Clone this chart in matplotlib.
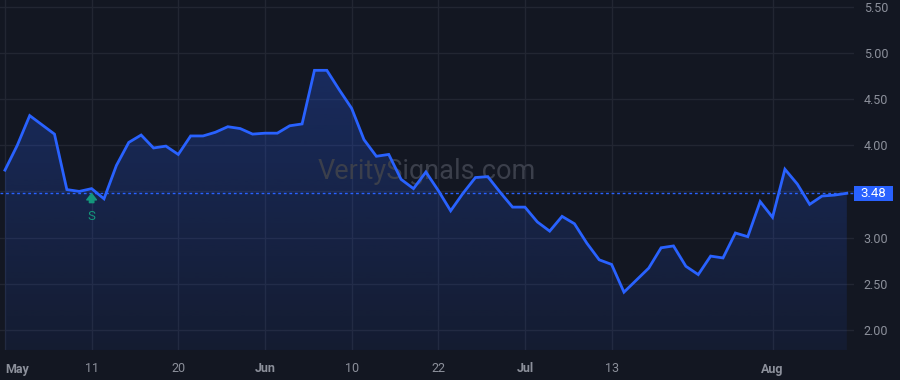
"""Dark price chart with area fill, signal marker and last-price label."""
import matplotlib
matplotlib.use("Agg")
import matplotlib.pyplot as plt
import matplotlib.transforms as mtransforms
from matplotlib.colors import LinearSegmentedColormap
from matplotlib.patches import Rectangle
import numpy as np

prices = [
    3.73, 4.00, 4.32, 4.22, 4.12, 3.52, 3.50, 3.53, 3.42, 3.78,
    4.03, 4.11, 3.97, 3.99, 3.90, 4.10, 4.10, 4.14, 4.20, 4.18,
    4.12, 4.13, 4.13, 4.21, 4.23, 4.81, 4.81, 4.60, 4.40, 4.06,
    3.88, 3.90, 3.63, 3.53, 3.71, 3.51, 3.29, 3.48, 3.65, 3.66,
    3.49, 3.33, 3.33, 3.17, 3.07, 3.23, 3.15, 2.94, 2.76, 2.71,
    2.41, 2.54, 2.67, 2.89, 2.91, 2.69, 2.60, 2.80, 2.78, 3.05,
    3.01, 3.39, 3.22, 3.74, 3.58, 3.36, 3.45, 3.46, 3.48,
]
tick_pos = [0, 7, 14, 21, 28, 35, 42, 49, 62]
tick_labels = ["May", "11", "20", "Jun", "10", "22", "Jul", "13", "Aug"]
month_labels = {"May", "Jun", "Jul", "Aug"}
price_ticks = [2.0, 2.5, 3.0, 3.5, 4.0, 4.5, 5.0, 5.5]
signal_idx = 7
last_price = prices[-1]

BG = "#131722"
GRID = "#222632"
TEXT = "#8c909b"
BLUE = "#2962ff"
GREEN = "#14977c"

x = np.arange(len(prices))
y = np.array(prices)

fig = plt.figure(figsize=(9, 3.8), dpi=100, facecolor=BG)
ax = fig.add_axes([0, 30 / 380, 854 / 900, 350 / 380], facecolor=BG)
xmin, xmax = -0.40, 68.58
ymin, ymax = 1.784, 5.571

# gradient area under the line
poly = ax.fill_between(x, y, ymin, color="none", lw=0)
cmap = LinearSegmentedColormap.from_list(
    "area", [(41 / 255, 98 / 255, 1, 0.07), (41 / 255, 98 / 255, 1, 0.27)]
)
grad = np.linspace(0, 1, 256).reshape(-1, 1)
img = ax.imshow(grad, cmap=cmap, aspect="auto", origin="lower",
                extent=[x[0], x[-1], ymin, y.max()], zorder=1)
img.set_clip_path(poly.get_paths()[0], transform=ax.transData)
ax.set_xlim(xmin, xmax)
ax.set_ylim(ymin, ymax)

ax.plot(x, y, color=BLUE, lw=2, zorder=3, solid_joinstyle="miter")
ax.axhline(last_price, color=BLUE, lw=1, ls=(0, (2, 2)), zorder=2)

# grid
ax.set_xticks(tick_pos)
ax.set_yticks(price_ticks)
ax.grid(True, color=GRID, lw=1, zorder=0)
ax.set_axisbelow(True)
for s in ax.spines.values():
    s.set_visible(False)

ax.yaxis.tick_right()
ax.tick_params(axis="y", length=0, pad=7, labelsize=9, labelcolor=TEXT)
# the 3.50 label is hidden behind the last-price tag
ax.set_yticklabels(["" if abs(v - last_price) < 0.1 else f"{v:.2f}"
                    for v in price_ticks], fontfamily="Roboto")
ax.tick_params(axis="x", length=0, pad=9, labelsize=9, labelcolor=TEXT)
ax.set_xticklabels(tick_labels, fontfamily="Roboto")
for lbl in ax.get_xticklabels():
    if lbl.get_text() in month_labels:
        lbl.set_fontweight("bold")
ax.get_xticklabels()[0].set_ha("left")

# watermark
ax.text(0.5, 0.51, "VeritySignals.com", transform=ax.transAxes,
        ha="center", va="center", fontsize=19.5, color="#3b3f4b",
        fontfamily="Roboto", zorder=2)

# signal marker: thick up arrow with "S" below
tip = mtransforms.offset_copy(ax.transData, fig, x=0, y=-5, units="dots")
tail = mtransforms.offset_copy(ax.transData, fig, x=0, y=-14, units="dots")
ax.annotate("", xy=(signal_idx, prices[signal_idx]), xycoords=tip,
            xytext=(signal_idx, prices[signal_idx]), textcoords=tail,
            arrowprops=dict(arrowstyle="simple,head_length=0.45,head_width=0.7,"
                                       "tail_width=0.32",
                            color=GREEN, shrinkA=0, shrinkB=0,
                            mutation_scale=10), zorder=4)
ax.annotate("S", xy=(signal_idx, prices[signal_idx]), xytext=(0, -15.5),
            textcoords="offset points", ha="center", va="top",
            fontsize=9.5, color=GREEN, fontfamily="Roboto", zorder=4)

# last price tag on the price scale
trans = mtransforms.blended_transform_factory(ax.transAxes, ax.transData)
tag_h = 15 / 350 * (ymax - ymin)
ax.add_patch(Rectangle((1.0, last_price - tag_h / 2), 39 / 854, tag_h,
                       transform=trans, fc=BLUE, ec="none",
                       clip_on=False, zorder=5))
ax.text(1.0 + 19.5 / 854, last_price, f"{last_price:.2f}", transform=trans,
        ha="center", va="center", fontsize=9.5, color="white",
        fontfamily="Roboto", clip_on=False, zorder=6)

fig.savefig("out.png", dpi=100, facecolor=BG)
